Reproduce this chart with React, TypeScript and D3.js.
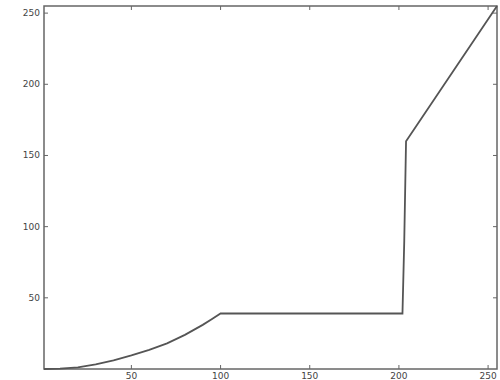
import React from "react";
import * as d3 from "d3";

const xInputs = [1, 10, 20, 30, 40, 50, 60, 70, 80, 90, 95, 100, 202, 203, 204, 255];
const yOutputs = [0, 0.3, 1.2, 3.2, 6, 9.5, 13.5, 18, 24, 31, 35, 39, 39, 90, 160, 255];
const xTicks = [50, 100, 150, 200, 250];
const yTicks = [50, 100, 150, 200, 250];

const W = 500;
const H = 380;
const left = 44;
const right = 497;
const top = 6;
const bottom = 369;

export default function App() {
  const x = d3.scaleLinear().domain([1, 255]).range([left, right]);
  const y = d3.scaleLinear().domain([0, 255]).range([bottom, top]);
  const pts: [number, number][] = xInputs.map((v, i) => [v, yOutputs[i]]);
  const line = d3
    .line<[number, number]>()
    .x((d) => x(d[0]))
    .y((d) => y(d[1]));
  const axisColor = "#666";
  const textColor = "#444";
  const tl = 4;
  return (
    <svg
      width={W}
      height={H}
      style={{ position: "absolute", left: 0, top: 0, background: "#fff" }}
      fontFamily="DejaVu Sans, sans-serif"
    >
      <rect x={left} y={top} width={right - left} height={bottom - top} fill="none" stroke={axisColor} strokeWidth={1.5} />
      {xTicks.map((t) => (
        <g key={"x" + t}>
          <line x1={x(t)} x2={x(t)} y1={bottom} y2={bottom - tl} stroke={axisColor} />
          <line x1={x(t)} x2={x(t)} y1={top} y2={top + tl} stroke={axisColor} />
          <text x={x(t)} y={bottom + 10} fontSize={9} textAnchor="middle" fill={textColor}>
            {t}
          </text>
        </g>
      ))}
      {yTicks.map((t) => (
        <g key={"y" + t}>
          <line x1={left} x2={left + tl} y1={y(t)} y2={y(t)} stroke={axisColor} />
          <line x1={right} x2={right - tl} y1={y(t)} y2={y(t)} stroke={axisColor} />
          <text x={left - 4} y={y(t) + 3} fontSize={9} textAnchor="end" fill={textColor}>
            {t}
          </text>
        </g>
      ))}
      <path d={line(pts) || ""} fill="none" stroke="#555" strokeWidth={1.8} />
    </svg>
  );
}
